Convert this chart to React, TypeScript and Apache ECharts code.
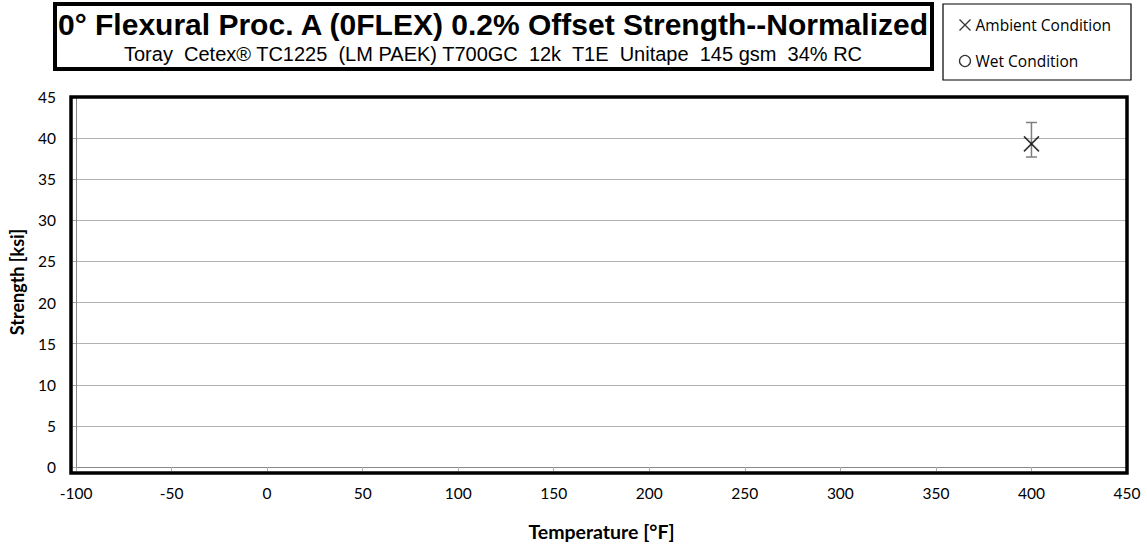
import React, { useEffect, useRef } from "react";
import * as echarts from "echarts";

const titleText = "0° Flexural Proc. A (0FLEX) 0.2% Offset Strength--Normalized";
const subtitleText = "Toray  Cetex® TC1225  (LM PAEK) T700GC  12k  T1E  Unitape  145 gsm  34% RC";
const legendNames = ["Ambient Condition", "Wet Condition"];

const ambientTemps = [400];
const ambientMeans = [39.3];
const ambientLow = [37.7];
const ambientHigh = [41.9];

const wetTemps: number[] = [];
const wetMeans: number[] = [];

const xMin = -100;
const xMax = 450;
const xStep = 50;
const yMin = 0;
const yMax = 45;
const yStep = 5;

const FONT = "Lato, 'Open Sans', sans-serif";
const crossPath = "path://M0,0L10,10M10,0L0,10";

export default function App() {
  const ref = useRef<HTMLDivElement>(null);
  useEffect(() => {
    if (!ref.current) return;
    const chart = echarts.init(ref.current, null, { renderer: "svg" });
    const ambientData = ambientTemps.map((t, i) => [t, ambientMeans[i]]);
    const errData = ambientTemps.map((t, i) => [t, ambientLow[i], ambientHigh[i]]);
    const wetData = wetTemps.map((t, i) => [t, wetMeans[i]]);
    const gl = 71, gt = 97, gr = 1127, gb = 473;
    chart.setOption({
      animation: false,
      backgroundColor: "#fff",
      grid: {
        left: gl,
        right: 1147 - gr,
        top: gt,
        bottom: 546 - gb,
        show: false,
      },
      xAxis: {
        type: "value",
        min: xMin,
        max: xMax,
        interval: xStep,
        name: "Temperature [°F]",
        nameLocation: "middle",
        nameGap: 54,
        nameTextStyle: { fontFamily: FONT, fontSize: 19.5, fontWeight: "bold", color: "#000" },
        axisLine: { show: true, onZero: false, lineStyle: { color: "#888", width: 1 } },
        axisTick: { show: true, length: 4, lineStyle: { color: "#aaa" } },
        axisLabel: { fontFamily: FONT, fontSize: 15.5, color: "#000", margin: 18 },
        splitLine: { show: false },
      },
      yAxis: {
        type: "value",
        min: yMin,
        max: yMax,
        interval: yStep,
        name: "Strength [ksi]",
        nameLocation: "middle",
        nameGap: 50,
        nameRotate: 90,
        nameTextStyle: { fontFamily: FONT, fontSize: 18, fontWeight: "bold", color: "#000" },
        axisLine: { show: true, onZero: false, lineStyle: { color: "#888", width: 1 } },
        axisTick: { show: true, length: 5, lineStyle: { color: "#aaa" } },
        axisLabel: { fontFamily: FONT, fontSize: 15.5, color: "#000", margin: 20 },
        splitLine: { show: true, lineStyle: { color: "#b3b3b3", width: 1.2 } },
      },
      legend: {
        orient: "vertical",
        left: 952,
        top: 12,
        itemGap: 20,
        itemWidth: 11,
        itemHeight: 11,
        textStyle: { fontFamily: "'Open Sans', sans-serif", fontSize: 15.5, color: "#000" },
        data: [
          { name: legendNames[0], icon: crossPath, itemStyle: { color: "none", borderColor: "#000", borderWidth: 1.3 } },
          { name: legendNames[1], icon: "circle", itemStyle: { color: "#fff", borderColor: "#000", borderWidth: 1.3 } },
        ],
      },
      graphic: [
        {
          type: "rect",
          shape: { x: gl, y: gt, width: gr - gl, height: gb - gt },
          style: { fill: "none", stroke: "#000", lineWidth: 3.5 },
          z: 100,
        },
        {
          type: "rect",
          shape: { x: 55, y: 4, width: 877, height: 65 },
          style: { fill: "none", stroke: "#000", lineWidth: 4 },
        },
        {
          type: "text",
          x: 493,
          y: 24,
          style: {
            text: titleText,
            fontFamily: "'Liberation Sans', Arial, sans-serif",
            fontSize: 30,
            fontWeight: "bold",
            fill: "#000",
            align: "center",
            verticalAlign: "middle",
          },
        },
        {
          type: "text",
          x: 493,
          y: 54,
          style: {
            text: subtitleText,
            fontFamily: "'Liberation Sans', Arial, sans-serif",
            fontSize: 20,
            fill: "#000",
            align: "center",
            verticalAlign: "middle",
          },
        },
        {
          type: "rect",
          shape: { x: 943, y: 4, width: 188, height: 76 },
          style: { fill: "none", stroke: "#000", lineWidth: 1.2 },
        },
      ],
      series: [
        {
          name: legendNames[0],
          type: "scatter",
          symbol: crossPath,
          symbolSize: 15,
          itemStyle: { color: "none", borderColor: "#000", borderWidth: 1.6 },
          data: ambientData,
          z: 5,
        },
        {
          name: "errorbars",
          type: "custom",
          data: errData,
          z: 4,
          renderItem: (params: any, api: any) => {
            const x = api.value(0);
            const lo = api.coord([x, api.value(1)]);
            const hi = api.coord([x, api.value(2)]);
            const w = 5.5;
            const style = { stroke: "#7f7f7f", lineWidth: 1.5 };
            return {
              type: "group",
              children: [
                { type: "line", shape: { x1: lo[0], y1: lo[1], x2: hi[0], y2: hi[1] }, style },
                { type: "line", shape: { x1: lo[0] - w, y1: lo[1], x2: lo[0] + w, y2: lo[1] }, style },
                { type: "line", shape: { x1: hi[0] - w, y1: hi[1], x2: hi[0] + w, y2: hi[1] }, style },
              ],
            };
          },
        },
        {
          name: legendNames[1],
          type: "scatter",
          symbol: "circle",
          symbolSize: 8,
          itemStyle: { color: "#fff", borderColor: "#000", borderWidth: 1.2 },
          data: wetData,
        },
      ],
    });
    return () => chart.dispose();
  }, []);
  return <div ref={ref} style={{ width: 1147, height: 546, position: "absolute", left: 0, top: 0 }} />;
}
